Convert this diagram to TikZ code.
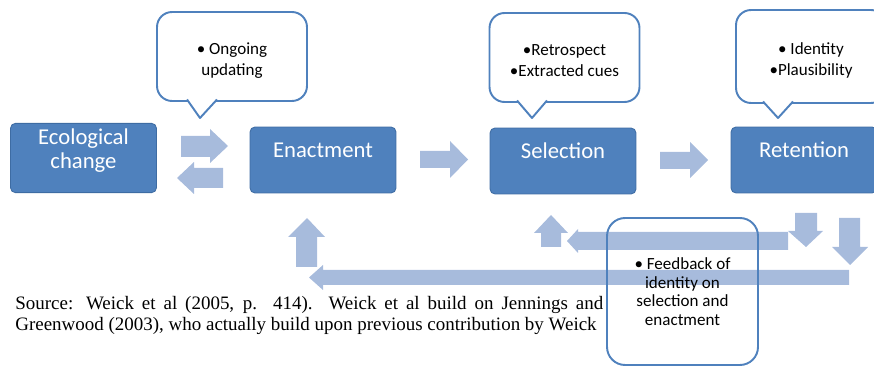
\documentclass[tikz,border=0pt]{standalone}
\usepackage{fontspec}
\setmainfont{Carlito}
\newfontfamily\sourcefont{Liberation Serif}

\definecolor{stageblue}{RGB}{79,129,189}
\definecolor{stageedge}{RGB}{62,108,163}
\definecolor{flowblue}{RGB}{167,187,220}
\definecolor{noteedge}{RGB}{79,129,189}

\tikzset{
  stage/.style={draw=stageedge, line width=0.5pt, fill=stageblue, rounded corners=0.1cm,
    text=white, minimum width=2.92cm, minimum height=1.32cm, align=center,
    font=\fontsize{12.9}{13.6}\selectfont, text height=8.5pt, text depth=11.5pt},
  flow/.style={fill=flowblue},
  note/.style={draw=noteedge, line width=1.1pt, rounded corners=0.3cm, fill=white,
    minimum width=3cm, minimum height=1.78cm, align=center,
    font=\fontsize{9.7}{12}\selectfont, text height=24pt, text depth=2pt},
  pointer/.style={draw=noteedge, line width=1.1pt, fill=white, line join=round},
  source/.style={font=\sourcefont\fontsize{10.8}{11.4}\selectfont, inner sep=0pt, anchor=base west}
}

\begin{document}
\begin{tikzpicture}[x=0.02cm, y=-0.02cm]
    \useasboundingbox (0,0) rectangle (874,367);

    \fill[flow] (181,136) -- (210,136) -- (210,129) -- (228,146) -- (210,163) -- (210,157) -- (181,157) -- cycle;
    \fill[flow] (223,168) -- (194,168) -- (194,162) -- (177,178) -- (194,194) -- (194,188) -- (223,188) -- cycle;
    \fill[flow] (420,151) -- (450,151) -- (450,141) -- (468,159.5) -- (450,178) -- (450,168) -- (420,168) -- cycle;
    \fill[flow] (660,152) -- (690,152) -- (690,142) -- (708,160) -- (690,178) -- (690,169) -- (660,169) -- cycle;

    \fill[flow] (795,213) -- (817,213) -- (817,231) -- (823,231) -- (806,247) -- (788,231) -- (795,231) -- cycle;
    \fill[flow] (839,218) -- (860,218) -- (860,247) -- (868,247) -- (850,265) -- (832,247) -- (839,247) -- cycle;
    \fill[flow] (788,232) -- (578,232) -- (578,229) -- (567,241) -- (578,253) -- (578,250) -- (788,250) -- cycle;
    \fill[flow] (849,270) -- (323,270) -- (323,265) -- (309,277.5) -- (323,290) -- (323,285) -- (849,285) -- cycle;
    \fill[flow] (541,247) -- (541,233) -- (534,233) -- (551,215) -- (568,233) -- (561,233) -- (561,247) -- cycle;
    \fill[flow] (296,267) -- (296,237) -- (288,237) -- (307,218) -- (325,237) -- (317,237) -- (317,267) -- cycle;

    \node[stage, text height=22.1pt, text depth=10.7pt] (eco) at (83.5,158) {Ecological\\change};
    \node[stage] (enact) at (323,160) {Enactment};
    \node[stage] (sel) at (563,161) {Selection};
    \node[stage] (ret) at (804,160) {Retention};

    \node[note] (ongoing) at (232,56.5) {\textbullet\ Ongoing\\updating};
    \filldraw[pointer] (187,99.5) -- (200,118) -- (217,99.5);
    \node[note] (retro) at (564.5,57.5) {\textbullet Retrospect\\\textbullet Extracted cues};
    \filldraw[pointer] (517,100.5) -- (532,118) -- (547,100.5);
    \node[note, minimum height=1.86cm] (ident) at (811,56.5) {\textbullet\ Identity\\\textbullet Plausibility};
    \filldraw[pointer] (763,101.5) -- (778,118) -- (793,101.5);

    \node[source] (src1) at (15,310) {\makebox[11.76cm][s]{Source: Weick et al (2005, p. 414). Weick et al build on Jennings and}};
    \node[source] (src2) at (15,331) {Greenwood (2003), who actually build upon previous contribution by Weick};

    \node[note, fill=none, rounded corners=0.36cm, minimum width=3.02cm, minimum height=2.94cm,
      font=\fontsize{9.7}{10.5}\selectfont, text height=, text depth=] (feedback) at (682.5,291.5)
      {\textbullet\ Feedback of\\identity on\\selection and\\enactment};
\end{tikzpicture}
\end{document}
